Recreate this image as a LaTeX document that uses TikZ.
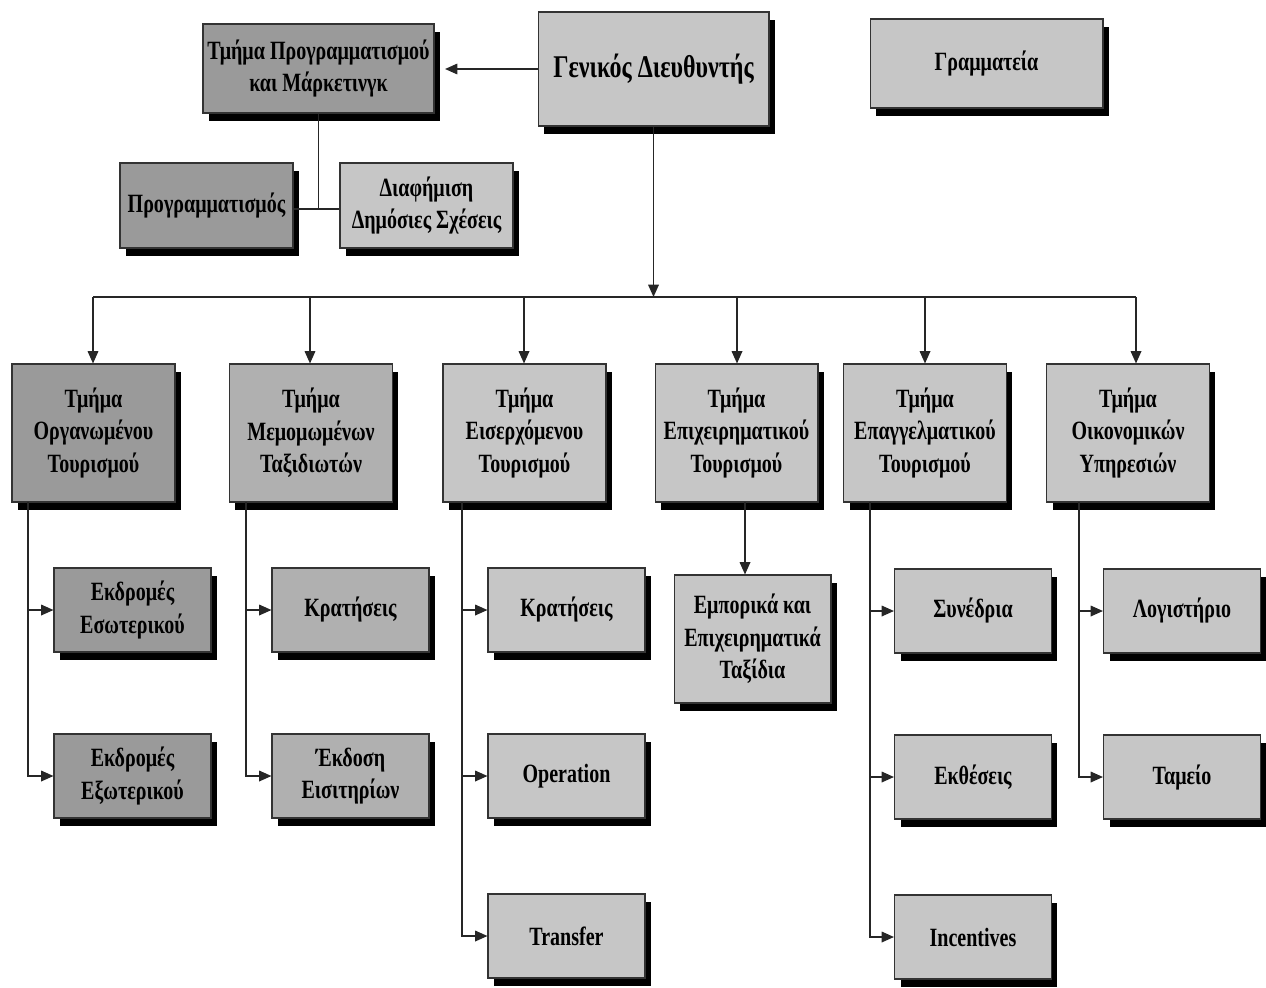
\documentclass[tikz,border=0pt]{standalone}
\usepackage{fontspec}
\newfontfamily\boxfont{Liberation Serif}[FakeStretch=0.76]
\usetikzlibrary{arrows.meta,shadows}
\definecolor{boxdark}{HTML}{9A9A9A}
\definecolor{boxmid}{HTML}{B0B0B0}
\definecolor{boxlight}{HTML}{C6C6C6}
\begin{document}
\begin{tikzpicture}[x=0.02cm,y=-0.02cm,
  box/.style={draw=black!80, line width=0.6pt, fill=boxlight, align=center, inner sep=2pt,
     font=\boxfont\bfseries\fontsize{15}{18.5}\selectfont,
     general shadow={fill=black, shadow xshift=3.4pt, shadow yshift=-4.5pt}},
  dark/.style={fill=boxdark},
  mid/.style={fill=boxmid},
  topbox/.style={minimum width=4.62cm, minimum height=1.78cm},
  smallbox/.style={minimum width=3.46cm, minimum height=1.70cm},
  deptbox/.style={minimum width=3.26cm, minimum height=2.76cm},
  subbox/.style={minimum width=3.14cm, minimum height=1.68cm},
  conn/.style={draw=black!85, line width=0.9pt},
  arr/.style={conn, -{Triangle[length=7pt,width=6pt]}},
]
\useasboundingbox (0,0) rectangle (1266,987);

% top level
\node[box, minimum width=4.62cm, minimum height=2.28cm,
      font=\boxfont\bfseries\fontsize{18}{20}\selectfont] (gd) at (653.5,69) {Γενικός Διευθυντής};
\node[box, dark, topbox] (tpm) at (318.5,68.5) {Τμήμα Προγραμματισμού\\και Μάρκετινγκ};
\node[box, topbox, minimum width=4.66cm] (gram) at (986.5,63.5) {Γραμματεία};
\node[box, dark, smallbox] (prog) at (206.5,205.5) {Προγραμματισμός};
\node[box, smallbox] (diaf) at (426.5,205.5) {Διαφήμιση\\Δημόσιες Σχέσεις};

% departments
\node[box, dark, deptbox] (d1) at (93.5,433) {Τμήμα\\Οργανωμένου\\Τουρισμού};
\node[box, mid, deptbox] (d2) at (311,433) {Τμήμα\\Μεμομωμένων\\Ταξιδιωτών};
\node[box, deptbox] (d3) at (524.5,433) {Τμήμα\\Εισερχόμενου\\Τουρισμού};
\node[box, deptbox] (d4) at (736.5,433) {Τμήμα\\Επιχειρηματικού\\Τουρισμού};
\node[box, deptbox] (d5) at (925,433) {Τμήμα\\Επαγγελματικού\\Τουρισμού};
\node[box, deptbox] (d6) at (1128,433) {Τμήμα\\Οικονομικών\\Υπηρεσιών};

% sub units
\node[box, dark, subbox] (e1) at (132.5,610) {Εκδρομές\\Εσωτερικού};
\node[box, dark, subbox] (e2) at (132.5,776) {Εκδρομές\\Εξωτερικού};
\node[box, mid, subbox] (k2) at (350.5,610) {Κρατήσεις};
\node[box, mid, subbox] (ek) at (350.5,776) {Έκδοση\\Εισιτηρίων};
\node[box, subbox] (k3) at (566.5,610) {Κρατήσεις};
\node[box, subbox] (op) at (566.5,776) {Operation};
\node[box, subbox] (tr) at (566.5,936) {Transfer};
\node[box, subbox, minimum height=2.56cm] (emp) at (752.5,639) {Εμπορικά και\\Επιχειρηματικά\\Ταξίδια};
\node[box, subbox] (syn) at (973,611) {Συνέδρια};
\node[box, subbox] (ekth) at (973,777) {Εκθέσεις};
\node[box, subbox] (inc) at (973,937) {Incentives};
\node[box, subbox] (log) at (1182,611) {Λογιστήριο};
\node[box, subbox] (tam) at (1182,777) {Ταμείο};

% connectors top
\draw[arr, shorten >=6pt] (gd.west) -- (gd.west -| tpm.east);
\draw[conn] (tpm.south) -- ([yshift=-0.07cm]tpm.south |- prog.east) -- ([yshift=-0.07cm]prog.east);
\draw[conn] ([yshift=-0.07cm]tpm.south |- prog.east) -- ([yshift=-0.07cm]diaf.west);

% bus
\coordinate (b1) at (93,297);
\coordinate (b2) at (310,297);
\coordinate (b3) at (524,297);
\coordinate (b4) at (737,297);
\coordinate (b5) at (925,297);
\coordinate (b6) at (1136,297);
\draw[conn, line width=1.2pt] (b1) -- (b6);
\draw[arr] (gd.south) -- (gd.south |- b1);
\foreach \i in {1,...,6}{
  \draw[arr] (b\i) -- (b\i |- d\i.north);
}

% branches
\coordinate (c1) at (28,502);
\coordinate (c2) at (246,502);
\coordinate (c3) at (462,502);
\coordinate (c4) at (745,502);
\coordinate (c5) at (870,502);
\coordinate (c6) at (1079,502);
\draw[arr] (c1) |- (e1.west);
\draw[arr] (c1) |- (e2.west);
\draw[arr] (c2) |- (k2.west);
\draw[arr] (c2) |- (ek.west);
\draw[arr] (c3) |- (k3.west);
\draw[arr] (c3) |- (op.west);
\draw[arr] (c3) |- (tr.west);
\draw[arr] (c4) -- (c4 |- emp.north);
\draw[arr] (c5) |- (syn.west);
\draw[arr] (c5) |- (ekth.west);
\draw[arr] (c5) |- (inc.west);
\draw[arr] (c6) |- (log.west);
\draw[arr] (c6) |- (tam.west);
\end{tikzpicture}
\end{document}
